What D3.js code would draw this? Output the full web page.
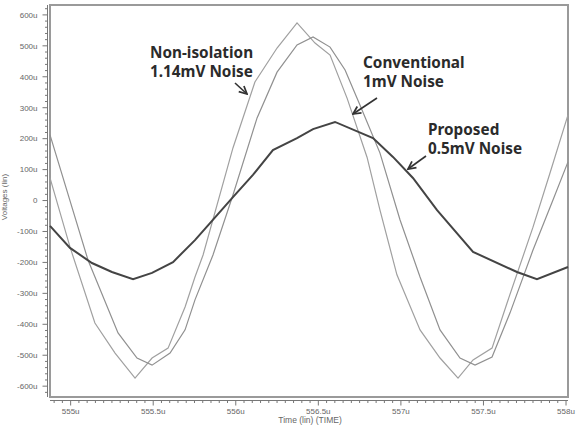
<!DOCTYPE html>
<html>
<head>
<meta charset="utf-8">
<script src="https://cdn.jsdelivr.net/npm/d3@7"></script>
<style>
  body { margin: 0; background: #fff; }
  svg { display: block; }
</style>
</head>
<body>
<svg id="chart" width="581" height="429"></svg>
<script>
// time in us, voltage in uV
const nonIsolation = [
  [554.875, 73], [554.996, -150], [555.147, -396], [555.269, -493], [555.390, -574],
  [555.493, -509], [555.590, -477], [555.693, -344], [555.753, -247], [555.802, -176],
  [555.983, 170], [556.116, 383], [556.250, 493], [556.371, 574], [556.480, 509],
  [556.571, 470], [556.674, 331], [556.795, 140], [556.873, -30], [556.976, -240],
  [557.116, -418], [557.237, -509], [557.346, -574], [557.437, -515], [557.552, -477],
  [557.643, -331], [557.800, -86], [557.903, 89], [558.012, 277]
];
const conventional = [
  [554.875, 212], [555.105, -192], [555.287, -428], [555.402, -509], [555.493, -532],
  [555.602, -493], [555.693, -418], [555.753, -321], [555.862, -176], [555.983, 18],
  [556.129, 267], [556.250, 415], [556.371, 503], [556.468, 529], [556.571, 496],
  [556.662, 422], [556.752, 309], [556.873, 154], [556.995, -63], [557.116, -247],
  [557.237, -418], [557.358, -509], [557.449, -532], [557.552, -506], [557.661, -363],
  [557.800, -160], [557.921, 2], [558.012, 125]
];
const proposed = [
  [554.875, -82], [554.996, -153], [555.129, -202], [555.250, -231], [555.378, -254],
  [555.493, -234], [555.620, -199], [555.753, -128], [555.844, -73], [555.983, 11],
  [556.104, 83], [556.225, 163], [556.371, 202], [556.468, 231], [556.601, 254],
  [556.831, 202], [556.952, 141], [557.073, 73], [557.219, -31], [557.437, -166],
  [557.703, -231], [557.824, -254], [558.012, -215]
];
const yTicks = [600, 500, 400, 300, 200, 100, 0, -100, -200, -300, -400, -500, -600];
const xTicks = [555, 555.5, 556, 556.5, 557, 557.5, 558];
const noteLabels = [
  ["Non-isolation", "1.14mV Noise"],
  ["Conventional", "1mV Noise"],
  ["Proposed", "0.5mV Noise"]
];

const svg = d3.select("#chart");
const plot = { left: 50, right: 568, top: 5, bottom: 397 };

const x = d3.scaleLinear().domain([554.875, 558.012]).range([plot.left, plot.right]);
const y = d3.scaleLinear().domain([-635, 632]).range([plot.bottom, plot.top]);

// frame
svg.append("rect")
  .attr("x", plot.left).attr("y", plot.top)
  .attr("width", plot.right - plot.left).attr("height", plot.bottom - plot.top)
  .attr("fill", "#fff")
  .attr("stroke", "#9a9a9a")
  .attr("stroke-width", 2);

// y axis (major + minor ticks)
const yAxisX = 47.5;
const yMinor = d3.range(-620, 621, 20).filter(v => v % 100 !== 0);
const yAxis = svg.append("g").attr("transform", `translate(${yAxisX},0)`);
yAxis.append("line")
  .attr("y1", plot.top).attr("y2", plot.bottom)
  .attr("stroke", "#777").attr("stroke-width", 1);
yAxis.selectAll(".minor").data(yMinor).enter().append("line")
  .attr("x1", -2.5).attr("x2", 0)
  .attr("y1", d => y(d)).attr("y2", d => y(d))
  .attr("stroke", "#777");
yAxis.selectAll(".major").data(yTicks).enter().append("line")
  .attr("x1", -5).attr("x2", 0)
  .attr("y1", d => y(d)).attr("y2", d => y(d))
  .attr("stroke", "#777");
yAxis.selectAll("text").data(yTicks).enter().append("text")
  .attr("x", -10).attr("y", d => y(d))
  .attr("dy", "0.35em")
  .attr("text-anchor", "end")
  .style("font-family", "Liberation Sans, Arial, sans-serif")
  .style("font-size", "8px")
  .style("fill", "#666")
  .text(d => d === 0 ? "0" : d + "u");

// x axis (major + minor ticks)
const xAxisY = 400.5;
const xMinor = d3.range(554.9, 558.011, 0.05).filter(t => Math.abs(t * 2 - Math.round(t * 2)) > 0.01);
const xAxis = svg.append("g").attr("transform", `translate(0,${xAxisY})`);
xAxis.append("line")
  .attr("x1", plot.left).attr("x2", plot.right)
  .attr("stroke", "#777").attr("stroke-width", 1);
xAxis.selectAll(".minor").data(xMinor).enter().append("line")
  .attr("x1", d => x(d)).attr("x2", d => x(d))
  .attr("y1", 0).attr("y2", 2.5)
  .attr("stroke", "#777");
xAxis.selectAll(".major").data(xTicks).enter().append("line")
  .attr("x1", d => x(d)).attr("x2", d => x(d))
  .attr("y1", 0).attr("y2", 5)
  .attr("stroke", "#777");
xAxis.selectAll("text").data(xTicks).enter().append("text")
  .attr("x", d => x(d)).attr("y", 13)
  .attr("text-anchor", "middle")
  .style("font-family", "Liberation Sans, Arial, sans-serif")
  .style("font-size", "8px")
  .style("fill", "#666")
  .text(d => d + "u");

// axis titles
svg.append("text")
  .attr("x", 310).attr("y", 423)
  .attr("text-anchor", "middle")
  .style("font-family", "Liberation Sans, Arial, sans-serif")
  .style("font-size", "8.5px")
  .style("fill", "#666")
  .text("Time (lin) (TIME)");
svg.append("text")
  .attr("transform", "translate(7,197) rotate(-90)")
  .attr("text-anchor", "middle")
  .style("font-family", "Liberation Sans, Arial, sans-serif")
  .style("font-size", "8px")
  .style("fill", "#666")
  .text("Voltages (lin)");

// curves
const line = d3.line().x(d => x(d[0])).y(d => y(d[1]));
const g = svg.append("g");
g.append("path").datum(nonIsolation)
  .attr("d", line).attr("fill", "none")
  .attr("stroke", "#a0a0a0").attr("stroke-width", 1.2);
g.append("path").datum(conventional)
  .attr("d", line).attr("fill", "none")
  .attr("stroke", "#909090").attr("stroke-width", 1.2);
g.append("path").datum(proposed)
  .attr("d", line).attr("fill", "none")
  .attr("stroke", "#444").attr("stroke-width", 2);

// annotations
svg.append("defs").append("marker")
  .attr("id", "arrow")
  .attr("viewBox", "0 0 10 10")
  .attr("refX", 9).attr("refY", 5)
  .attr("markerWidth", 6).attr("markerHeight", 6)
  .attr("orient", "auto")
  .append("path")
  .attr("d", "M1,1 L9,5 L1,9")
  .attr("fill", "none")
  .attr("stroke", "#333")
  .attr("stroke-width", 1.8);

const notePos = [
  { tx: 150, ty: 58, ax1: 235, ay1: 83, ax2: 247, ay2: 94 },
  { tx: 363, ty: 68, ax1: 377, ay1: 98, ax2: 353, ay2: 114 },
  { tx: 428, ty: 135, ax1: 426, ay1: 156, ax2: 408, ay2: 169 }
];
noteLabels.forEach((lines, i) => {
  const p = notePos[i];
  const t = svg.append("text")
    .attr("x", p.tx).attr("y", p.ty)
    .style("font-family", "Noto Sans, sans-serif")
    .style("font-weight", "bold")
    .style("font-size", "15.3px")
    .style("fill", "#2b2b2b");
  lines.forEach((s, k) => {
    t.append("tspan").attr("x", p.tx).attr("dy", k === 0 ? 0 : 18.5).text(s);
  });
  svg.append("line")
    .attr("x1", p.ax1).attr("y1", p.ay1)
    .attr("x2", p.ax2).attr("y2", p.ay2)
    .attr("stroke", "#333").attr("stroke-width", 1.6)
    .attr("marker-end", "url(#arrow)");
});
</script>
</body>
</html>
